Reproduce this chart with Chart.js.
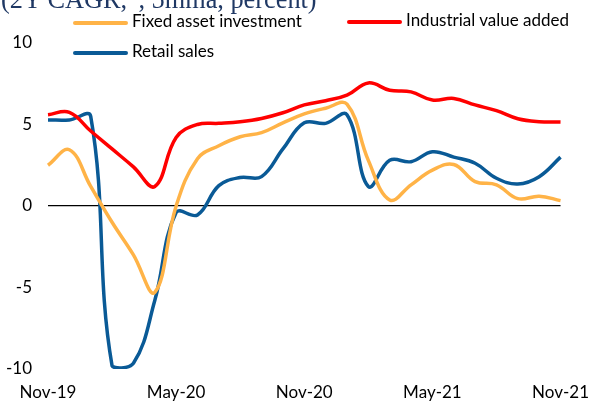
<!DOCTYPE html>
<html lang="en">
<head>
  <meta charset="UTF-8" />
  <title>China activity</title>
  <script src="https://cdn.jsdelivr.net/npm/chart.js"></script>
  <style>
    body {
      margin: 0;
      background: #fff;
      font-family: Lato, sans-serif;
    }

    .wrap {
      position: relative;
      width: 594px;
      height: 401px;
      overflow: hidden;
    }

    .title {
      position: absolute;
      left: 1px;
      top: -15px;
      font-family: "Liberation Serif", serif;
      font-size: 26.3px;
      color: #1f3864;
      white-space: nowrap;
    }

    .legend span {
      position: absolute;
      font-size: 17px;
      color: #000;
      white-space: nowrap;
    }

    .legend i {
      position: absolute;
      width: 55px;
      height: 4px;
      border-radius: 2px;
    }
  </style>
</head>
<body>
  <div class="wrap">
    <canvas id="chart" width="594" height="401"></canvas>
    <div class="title">(2Y CAGR, ', 5mma, percent)</div>
    <div class="legend" id="legend"></div>
  </div>

  <script>
    const months = [
      "Nov-19", "Dec-19", "Jan-20", "Feb-20", "Mar-20", "Apr-20", "May-20",
      "Jun-20", "Jul-20", "Aug-20", "Sep-20", "Oct-20", "Nov-20", "Dec-20",
      "Jan-21", "Feb-21", "Mar-21", "Apr-21", "May-21", "Jun-21", "Jul-21",
      "Aug-21", "Sep-21", "Oct-21", "Nov-21"
    ];

    const fixedAsset = [
      2.5, 3.45, 1.2, -1.0, -3.0, -5.3, 0.0, 2.9, 3.7, 4.25, 4.5, 5.1, 5.65,
      6.0, 6.25, 2.8, 0.37, 1.3, 2.2, 2.55, 1.5, 1.3, 0.45, 0.6, 0.33
    ];

    const industrial = [
      5.6, 5.75, 4.6, 3.5, 2.4, 1.2, 4.2, 5.0, 5.07, 5.17, 5.37, 5.72, 6.2,
      6.46, 6.8, 7.55, 7.1, 7.0, 6.5, 6.6, 6.2, 5.85, 5.35, 5.17, 5.15
    ];

    const retail = [
      5.28, 5.28, 5.5, -9.8, -9.65, -5.8, -0.4, -0.55, 1.25, 1.75, 1.8, 3.5, 5.1,
      5.07, 5.6, 1.2, 2.8, 2.72, 3.33, 3.0, 2.62, 1.7, 1.35, 1.8, 3.0
    ];

    const yTicks = [-10, -5, 0, 5, 10];
    const shownMonths = ["Nov-19", "May-20", "Nov-20", "May-21", "Nov-21"];

    const series = [
      { label: "Fixed asset investment", data: fixedAsset, color: "#ffb347", left: 73, top: 21 },
      { label: "Industrial value added", data: industrial, color: "#ff0000", left: 347, top: 20 },
      { label: "Retail sales", data: retail, color: "#0a5a96", left: 73, top: 51 }
    ];

    // legend drawn as html, same colours as the datasets
    const legend = document.getElementById("legend");
    series.forEach(s => {
      const bar = document.createElement("i");
      bar.style.left = s.left + "px";
      bar.style.top = s.top + "px";
      bar.style.background = s.color;
      legend.appendChild(bar);
      const txt = document.createElement("span");
      txt.textContent = s.label;
      txt.style.left = (s.left + 59) + "px";
      txt.style.top = (s.top - 11) + "px";
      legend.appendChild(txt);
    });

    const ctx = document.getElementById("chart").getContext("2d");

    new Chart(ctx, {
      type: "line",
      data: {
        labels: months,
        datasets: series.map(s => ({
          label: s.label,
          data: s.data,
          borderColor: s.color,
          backgroundColor: s.color,
          borderWidth: 3.5,
          pointRadius: 0,
          tension: 0.4,
          fill: false
        }))
      },
      options: {
        responsive: false,
        animation: false,
        layout: { padding: { top: 43, right: 27, left: 0, bottom: 0 } },
        plugins: {
          legend: { display: false },
          tooltip: { enabled: false }
        },
        scales: {
          x: {
            offset: false,
            grid: { display: false },
            border: { display: false },
            afterFit: scale => { scale.height = 32; },
            ticks: {
              autoSkip: false,
              maxRotation: 0,
              padding: 5,
              color: "#000",
              font: { family: "Lato", size: 17 },
              callback: function (val) {
                const lab = this.getLabelForValue(val);
                return shownMonths.includes(lab) ? lab : "";
              }
            }
          },
          y: {
            min: -10,
            max: 10,
            afterFit: scale => { scale.width = 48; },
            afterBuildTicks: scale => { scale.ticks = yTicks.map(v => ({ value: v })); },
            border: { display: false },
            grid: {
              drawTicks: false,
              lineWidth: 1.2,
              color: c => (c.tick && c.tick.value === 0 ? "#000" : "rgba(0,0,0,0)")
            },
            ticks: {
              padding: 16,
              color: "#000",
              font: { family: "Lato", size: 17 }
            }
          }
        }
      }
    });
  </script>
</body>
</html>
